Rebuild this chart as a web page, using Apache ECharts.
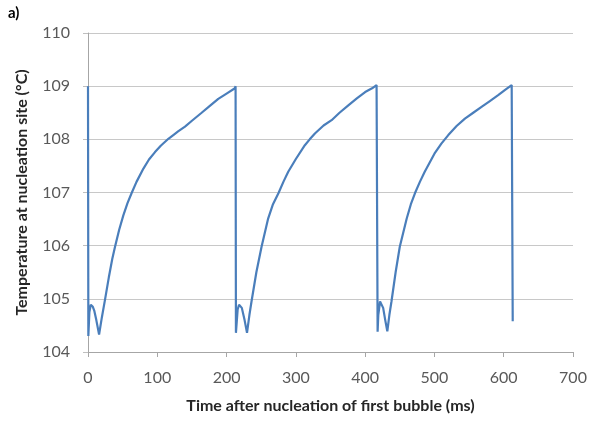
<!DOCTYPE html>
<html>
<head>
<meta charset="utf-8">
<script src="https://cdn.jsdelivr.net/npm/echarts@6/dist/echarts.min.js"></script>
<style>
html,body{margin:0;padding:0;background:#fff;}
#chart{width:591px;height:422px;}
</style>
</head>
<body>
<div id="chart"></div>
<script>
// Time after nucleation of first bubble (ms)
var timeMs = [
  0, 0.5, 2, 4, 7, 9, 12, 16, 20, 24.5, 30, 35, 39, 45, 51, 57, 63, 70, 80, 88, 96.7, 105, 116, 125, 130, 132, 140, 150, 164, 175, 188, 200, 212, 213, 213.5,
  216, 218, 222, 226, 229.5, 233, 236, 243, 250.5, 260, 267, 275, 282, 289, 300, 313, 320, 327.5, 340, 351.6, 363, 375.7, 388, 400, 410, 416.5, 417.5, 418,
  419, 421.5, 426, 429, 432, 435, 438, 444, 450, 460, 466, 472, 479, 486, 500, 510, 520, 532, 544, 556, 568, 580, 592, 602, 611.5, 612.5, 613
];
// Temperature at nucleation site (°C)
var tempC = [
  109.0, 104.3, 104.75, 104.89, 104.85, 104.78, 104.6, 104.33, 104.65, 104.98, 105.4, 105.75, 105.98, 106.3, 106.57, 106.8, 106.99, 107.2, 107.45, 107.62, 107.76, 107.88, 108.01, 108.1, 108.15, 108.12, 108.24, 108.35, 108.5, 108.62, 108.76, 108.86, 108.96, 109.0, 104.36,
  104.8, 104.89, 104.83, 104.6, 104.36, 104.7, 104.95, 105.5, 105.98, 106.51, 106.78, 106.99, 107.2, 107.39, 107.63, 107.89, 108.0, 108.11, 108.26, 108.36, 108.5, 108.64, 108.77, 108.89, 108.96, 109.02, 109.0, 104.38,
  104.7, 104.95, 104.83, 104.6, 104.39, 104.7, 104.95, 105.5, 105.98, 106.51, 106.78, 106.99, 107.2, 107.39, 107.73, 107.92, 108.08, 108.25, 108.39, 108.5, 108.61, 108.72, 108.83, 108.93, 109.02, 109.05, 104.58
];
var xTicks = [0, 700, 100];   // min, max, interval
var yTicks = [104, 110, 1];   // min, max, interval
var xTitle = 'Time after nucleation of first bubble (ms)';
var yTitle = 'Temperature at nucleation site (°C)';
var panelLabel = 'a)';

var data = timeMs.map(function (t, i) { return [t, tempC[i]]; });
var font = 'Lato, "Open Sans", sans-serif';

var chart = echarts.init(document.getElementById('chart'), null, {renderer: 'canvas'});
chart.setOption({
  animation: false,
  backgroundColor: '#ffffff',
  graphic: [{
    type: 'text', left: 8, top: 6,
    style: {text: panelLabel, font: 'bold 15px ' + font, fill: '#000'}
  }],
  grid: {left: 88, right: 18, top: 33, bottom: 70, containLabel: false},
  xAxis: {
    type: 'value', min: xTicks[0], max: xTicks[1], interval: xTicks[2],
    name: xTitle, nameLocation: 'middle', nameGap: 46,
    nameTextStyle: {fontFamily: font, fontWeight: 'bold', fontSize: 16, color: '#262626'},
    axisLine: {show: true, lineStyle: {color: '#a6a6a6', width: 1}},
    axisTick: {show: true, length: 5, lineStyle: {color: '#a6a6a6'}},
    axisLabel: {fontFamily: font, fontSize: 16, color: '#595959', margin: 18},
    splitLine: {show: false}
  },
  yAxis: {
    type: 'value', min: yTicks[0], max: yTicks[1], interval: yTicks[2],
    name: yTitle, nameLocation: 'middle', nameGap: 58, nameRotate: 90,
    nameTextStyle: {fontFamily: font, fontWeight: 'bold', fontSize: 16, color: '#262626'},
    axisLine: {show: true, lineStyle: {color: '#a6a6a6', width: 1}},
    axisTick: {show: true, length: 5, lineStyle: {color: '#bfbfbf'}},
    axisLabel: {fontFamily: font, fontSize: 16, color: '#595959', margin: 18},
    splitLine: {show: true, lineStyle: {color: '#c8c8c8', width: 1}}
  },
  series: [{
    type: 'line', data: data, showSymbol: false, symbol: 'none',
    lineStyle: {color: '#4a7ebb', width: 2.2},
    smooth: false
  }]
});
</script>
</body>
</html>
